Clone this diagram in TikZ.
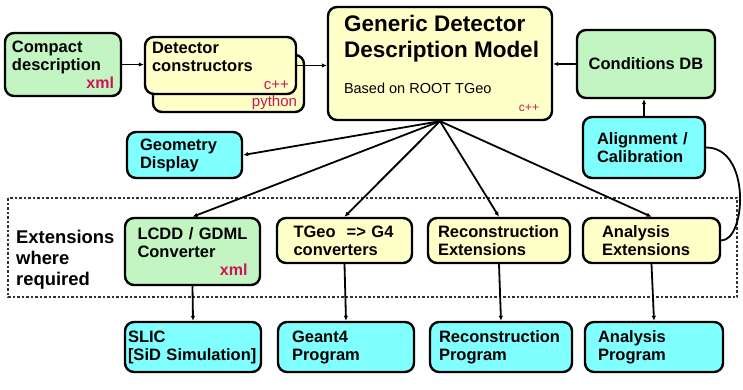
\documentclass[tikz,border=0pt]{standalone}
\usepackage{fontspec}
\setmainfont{Liberation Sans}
\usetikzlibrary{arrows.meta}
\definecolor{boxgreen}{RGB}{194,245,194}
\definecolor{boxyellow}{RGB}{255,255,200}
\definecolor{boxcyan}{RGB}{128,255,255}
\definecolor{tagred}{RGB}{204,20,90}
\newcommand{\pushright}{\hskip 0pt plus 1filll\relax}
\newcommand{\xmltag}[1]{{\color{tagred}\bfseries\fontsize{16}{18}\selectfont #1}}
\newcommand{\codetag}[2][15]{{\color{tagred}\mdseries\fontsize{#1}{18}\selectfont #2}}

\begin{document}
\begin{tikzpicture}[every node/.style={font=\bfseries\fontsize{16.5}{18}\selectfont}, >={Latex[length=5pt, width=4.5pt]}, x=1pt, y=-1pt,
	box/.style={draw, line width=2.4pt, rounded corners=9pt, align=left, inner sep=2pt},
	link/.style={line width=1.8pt}]
	\path[fill=white, use as bounding box] (0,0) rectangle (743,390);
	\draw[line width=1.2pt, dash pattern=on 2.5pt off 2pt, black!80] (8,198) rectangle (737,297);
	% top row
	\node[box, fill=boxgreen, minimum width=116, minimum height=63, text width=102] (cmp) at (63,64.5) {Compact\\description\\\pushright\xmltag{xml}};
	\node[box, fill=boxyellow, minimum width=151, minimum height=57, text width=137] (detback) at (228.5,83.5) {\strut\\\mbox{}\\\pushright\codetag{python}};
	\node[box, fill=boxyellow, minimum width=151, minimum height=57, text width=137] (det) at (220.5,65.5) {Detector\\constructors\\\pushright\codetag{c++}};
	\node[box, fill=boxyellow, minimum width=224, minimum height=113] (gddm) at (440,63.5) {};
	\node[anchor=north west, inner sep=0pt, align=left, font=\bfseries\fontsize{22.5}{26}\selectfont] (gddmtitle) at ([shift={(17,9.5)}]gddm.north west) {Generic Detector\\Description Model};
	\node[anchor=base west, inner sep=0pt, font=\fontsize{14.5}{17}\selectfont] (gddmbase) at ([shift={(17,88)}]gddm.north west) {Based on ROOT TGeo};
	\node[anchor=base east, inner sep=0pt] (gddmcode) at ([shift={(-14,-10)}]gddm.south east) {\codetag[12]{c++}};
	\node[box, fill=boxgreen, minimum width=138, minimum height=68, align=center] (cond) at (646,64) {Conditions DB};
	% middle row
	\node[box, fill=boxcyan, minimum width=115, minimum height=46, text width=89] (geo) at (184.5,155) {Geometry\\Display};
	\node[box, fill=boxcyan, minimum width=122, minimum height=61, text width=94] (calib) at (644,147.5) {Alignment /\\Calibration};
	% extensions
	\node[anchor=north west, inner sep=0pt, align=left, font=\bfseries\fontsize{18.4}{21}\selectfont] (extlabel) at (16,230) {Extensions\\where\\required};
	\node[box, fill=boxgreen, minimum width=135, minimum height=67, text width=110] (lcdd) at (192.5,251.5) {LCDD / GDML\\Converter\\\pushright\xmltag{xml}};
	\node[box, fill=boxyellow, minimum width=135, minimum height=45, text width=102] (tgeo) at (344.5,240.5) {\mbox{TGeo\ \ => G4}\\converters};
	\node[box, fill=boxyellow, minimum width=142, minimum height=45, text width=122] (reco) at (499,240.5) {Reconstruction\\Extensions};
	\node[box, fill=boxyellow, minimum width=137, minimum height=45, text width=99] (anaext) at (651.5,240.5) {Analysis\\Extensions};
	% programs
	\node[box, fill=boxcyan, minimum width=136, minimum height=50, text width=130] (slic) at (193,347) {SLIC\\{[}SiD Simulation]};
	\node[box, fill=boxcyan, minimum width=136, minimum height=50, text width=108] (geant) at (346,347) {Geant4\\Program};
	\node[box, fill=boxcyan, minimum width=142, minimum height=50, text width=124] (recprog) at (501,347) {Reconstruction\\Program};
	\node[box, fill=boxcyan, minimum width=138, minimum height=50, text width=112] (anaprog) at (654,347) {Analysis\\Program};
	% connectors
	\draw[link, ->] (cmp.east) -- (cmp.east -| det.west);
	\draw[link, ->] (det.east) -- (det.east -| gddm.west);
	\draw[link, ->] (cond.west) -- (cond.west -| gddm.east);
	\draw[link, ->] (calib.north) -- (calib.north |- cond.south);
	\draw[link] (calib.east) .. controls +(45,0) and +(25,0) .. (anaext.east);
	\draw[link, ->] (gddm.south) -- (geo.east);
	\foreach \n in {lcdd,tgeo,reco,anaext} \draw[link, ->] (gddm.south) -- (\n.north);
	\foreach \a/\b in {lcdd/slic,tgeo/geant,reco/recprog,anaext/anaprog} \draw[link, ->] (\a.south) -- (\b.north);
\end{tikzpicture}
\end{document}
